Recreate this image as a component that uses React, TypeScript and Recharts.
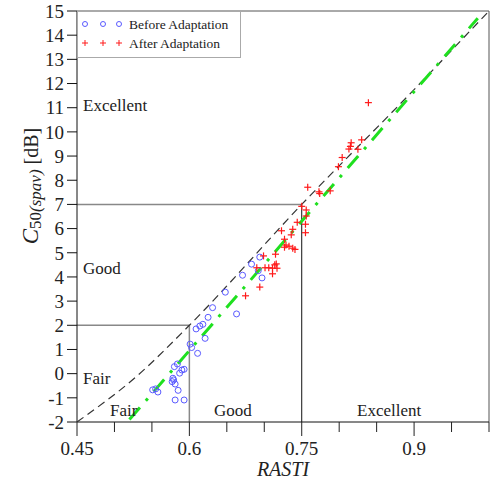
import { ScatterChart, Scatter, XAxis, YAxis, ReferenceLine } from "recharts";

const W = 493;
const H = 482;
const FONT = '"Liberation Serif", "Times New Roman", serif';

const xTicks = [0.45, 0.5, 0.55, 0.6, 0.65, 0.7, 0.75, 0.8, 0.85, 0.9, 0.95, 1.0];
const xLabelled = [0.45, 0.6, 0.75, 0.9];
const yTicks = [-2, -1, 0, 1, 2, 3, 4, 5, 6, 7, 8, 9, 10, 11, 12, 13, 14, 15];

// Before Adaptation (blue circles)
const before = [
  { x: 0.551, y: -0.67 }, { x: 0.555, y: -0.63 }, { x: 0.558, y: -0.76 },
  { x: 0.577, y: -0.33 }, { x: 0.578, y: -0.19 }, { x: 0.579, y: -0.26 },
  { x: 0.581, y: -0.43 }, { x: 0.58, y: 0.29 }, { x: 0.584, y: 0.4 },
  { x: 0.587, y: 0.02 }, { x: 0.59, y: 0.15 }, { x: 0.593, y: 0.18 },
  { x: 0.585, y: -0.69 }, { x: 0.581, y: -1.09 }, { x: 0.593, y: -1.09 },
  { x: 0.601, y: 1.22 }, { x: 0.603, y: 1.08 }, { x: 0.611, y: 0.84 },
  { x: 0.609, y: 1.85 }, { x: 0.614, y: 1.97 }, { x: 0.618, y: 2.04 },
  { x: 0.621, y: 1.46 }, { x: 0.625, y: 2.33 }, { x: 0.631, y: 2.73 },
  { x: 0.648, y: 3.37 }, { x: 0.663, y: 2.47 }, { x: 0.671, y: 4.07 },
  { x: 0.683, y: 4.53 }, { x: 0.694, y: 4.82 }, { x: 0.692, y: 4.26 },
  { x: 0.697, y: 3.96 },
];

// After Adaptation (red plus)
const after = [
  { x: 0.675, y: 3.22 }, { x: 0.694, y: 3.58 }, { x: 0.69, y: 4.38 },
  { x: 0.699, y: 4.87 }, { x: 0.701, y: 4.38 }, { x: 0.706, y: 4.38 },
  { x: 0.711, y: 4.36 }, { x: 0.711, y: 4.13 }, { x: 0.715, y: 4.94 },
  { x: 0.716, y: 4.54 }, { x: 0.717, y: 4.36 }, { x: 0.714, y: 4.5 },
  { x: 0.723, y: 5.91 }, { x: 0.727, y: 5.56 }, { x: 0.729, y: 5.32 },
  { x: 0.727, y: 5.23 }, { x: 0.733, y: 5.27 }, { x: 0.738, y: 5.19 },
  { x: 0.741, y: 5.14 }, { x: 0.736, y: 5.74 }, { x: 0.738, y: 5.97 },
  { x: 0.744, y: 6.26 }, { x: 0.75, y: 6.92 }, { x: 0.755, y: 6.18 },
  { x: 0.755, y: 5.83 }, { x: 0.756, y: 6.52 }, { x: 0.756, y: 6.77 },
  { x: 0.758, y: 7.71 }, { x: 0.773, y: 7.52 }, { x: 0.774, y: 7.45 },
  { x: 0.788, y: 7.56 }, { x: 0.799, y: 8.56 }, { x: 0.804, y: 8.94 },
  { x: 0.813, y: 9.29 }, { x: 0.815, y: 9.4 }, { x: 0.816, y: 9.55 },
  { x: 0.825, y: 9.28 }, { x: 0.83, y: 9.67 }, { x: 0.839, y: 11.21 },
];

// theoretical relation (black dashed)
const refCurve = [
  { x: 0.45, y: -2 }, { x: 0.53, y: -0.1 }, { x: 0.6, y: 2 },
  { x: 0.75, y: 7 }, { x: 0.9, y: 11.75 }, { x: 1.0, y: 15 },
];

// linear fit (green dash-dot)
const fitLine = [{ x: 0.52, y: -1.9 }, { x: 0.985, y: 14.7 }];

const Circle = (p: any) => (
  <circle cx={p.cx} cy={p.cy} r={3} fill="none" stroke="#5a5aff" strokeWidth={1} />
);
const Plus = (p: any) => (
  <g stroke="#ff1a1a" strokeWidth={1.2}>
    <line x1={p.cx - 3.5} x2={p.cx + 3.5} y1={p.cy} y2={p.cy} />
    <line x1={p.cx} x2={p.cx} y1={p.cy - 3.5} y2={p.cy + 3.5} />
  </g>
);
const NoDot = () => <g />;

function XTick({ x, y, payload }: any) {
  const v = payload.value;
  const major = xLabelled.some((m) => Math.abs(m - v) < 1e-6);
  return (
    <g>
      <line x1={x} x2={x} y1={y} y2={y + (major ? 14 : 10)} stroke="#222" />
      {major && (
        <text x={x} y={y + 33} textAnchor="middle" fontSize={19} fontFamily={FONT} fill="#222">
          {String(v)}
        </text>
      )}
    </g>
  );
}

const regionText = { fontSize: 17, fontFamily: FONT, fill: "#222" };

export default function App() {
  return (
    <div style={{ position: "absolute", left: 0, top: 0, width: W, height: H, background: "#fff" }}>
      <ScatterChart width={W} height={H} margin={{ top: 11, right: 4, bottom: 0, left: 0 }}>
        <XAxis
          type="number"
          dataKey="x"
          domain={[0.45, 1.0]}
          ticks={xTicks}
          allowDataOverflow
          height={60}
          tickSize={0}
          tickMargin={0}
          tickLine={false}
          tick={<XTick />}
          stroke="#111"
          interval={0}
        />
        <YAxis
          type="number"
          dataKey="y"
          domain={[-2, 15]}
          ticks={yTicks}
          allowDataOverflow
          width={77}
          tickSize={10}
          tickMargin={3}
          interval={0}
          stroke="#111"
          tick={{ fontSize: 19, fontFamily: FONT, fill: "#222" }}
        />
        <ReferenceLine y={15} stroke="#555" />
        <ReferenceLine x={1.0} stroke="#555" />
        <ReferenceLine segment={[{ x: 0.45, y: 2 }, { x: 0.6, y: 2 }]} stroke="#888" strokeWidth={1.5} />
        <ReferenceLine segment={[{ x: 0.6, y: 2 }, { x: 0.6, y: -2 }]} stroke="#888" strokeWidth={1.5} />
        <ReferenceLine segment={[{ x: 0.45, y: 7 }, { x: 0.75, y: 7 }]} stroke="#888" strokeWidth={1.5} />
        <ReferenceLine segment={[{ x: 0.75, y: 7 }, { x: 0.75, y: -2 }]} stroke="#111" strokeWidth={1} />
        <Scatter
          data={refCurve}
          shape={NoDot}
          line={{ stroke: "#333", strokeWidth: 1.2, strokeDasharray: "8 5" }}
          lineJointType="monotoneX"
          isAnimationActive={false}
        />
        <Scatter
          data={fitLine}
          shape={NoDot}
          line={{ stroke: "#1fe01f", strokeWidth: 3, strokeDasharray: "16 9 3 9" }}
          isAnimationActive={false}
        />
        <Scatter name="Before Adaptation" data={before} shape={Circle} isAnimationActive={false} />
        <Scatter name="After Adaptation" data={after} shape={Plus} isAnimationActive={false} />
      </ScatterChart>
      <svg
        width={W}
        height={H}
        style={{ position: "absolute", left: 0, top: 0, pointerEvents: "none" }}
      >
        {/* legend */}
        <rect x={77.5} y={11.5} width={163} height={46} fill="#fff" stroke="#aaa" />
        {[85, 103, 119].map((cx) => (
          <circle key={cx} cx={cx} cy={24} r={2.5} fill="none" stroke="#5a5aff" />
        ))}
        {[85, 103, 119].map((cx) => (
          <g key={"p" + cx} stroke="#ff1a1a" strokeWidth={1}>
            <line x1={cx - 3} x2={cx + 3} y1={43} y2={43} />
            <line x1={cx} x2={cx} y1={40} y2={46} />
          </g>
        ))}
        <text x={129} y={29} fontSize={13.5} fontFamily={FONT} fill="#222">Before Adaptation</text>
        <text x={129} y={48} fontSize={13.5} fontFamily={FONT} fill="#222">After Adaptation</text>

        {/* region labels */}
        <text x={83} y={111} {...regionText}>Excellent</text>
        <text x={83} y={274} {...regionText}>Good</text>
        <text x={83} y={384} {...regionText}>Fair</text>
        <text x={110} y={416} {...regionText}>Fair</text>
        <text x={214} y={416} {...regionText}>Good</text>
        <text x={357} y={416} {...regionText}>Excellent</text>

        {/* axis titles */}
        <text x={283} y={476} textAnchor="middle" fontSize={20} fontStyle="italic" fontFamily={FONT} fill="#222">
          RASTI
        </text>
        <text
          transform="translate(38,186) rotate(-90)"
          textAnchor="middle"
          fontFamily={FONT}
          fill="#222"
        >
          <tspan fontSize={23} fontStyle="italic">C</tspan>
          <tspan fontSize={17} dy={3}>50</tspan>
          <tspan fontSize={17} fontStyle="italic">(spav)</tspan>
          <tspan fontSize={20} dy={-3}> [dB]</tspan>
        </text>
      </svg>
    </div>
  );
}
